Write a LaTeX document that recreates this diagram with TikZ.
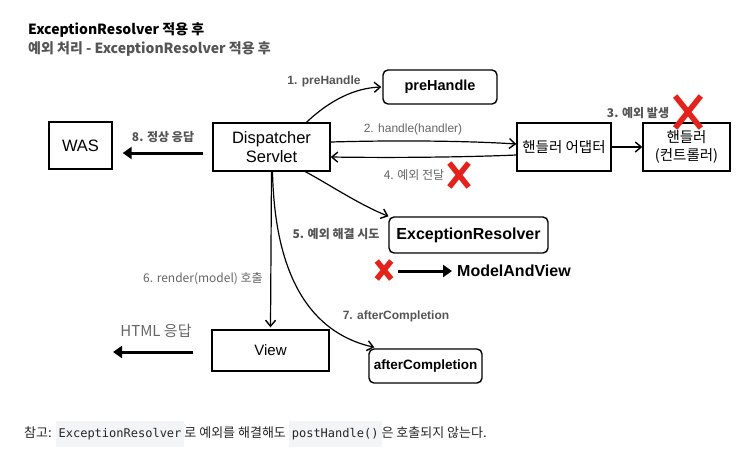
\documentclass[tikz,border=0pt]{standalone}
\usepackage{fontspec}
\usepackage{xcolor}
\usetikzlibrary{arrows.meta}
\setmainfont{Liberation Sans}
\newfontfamily\kr{Noto Sans CJK KR}
\newfontfamily\codefont{DejaVu Sans Mono}
\definecolor{lblgray}{HTML}{666666}
\definecolor{boldgray}{HTML}{555555}
\definecolor{xred}{HTML}{E3231B}
\definecolor{codebg}{HTML}{F3F4F6}
\newcommand\codebit[1]{{\setlength\fboxsep{3pt}\colorbox{codebg}{\rule[-7pt]{0pt}{20pt}\fontsize{12}{14}\codefont #1}}}
\tikzset{
  box/.style={draw,line width=1.4pt,inner sep=0pt,align=center,font=\fontsize{16.5}{19}\selectfont},
  rbox/.style={box,rounded corners=5pt,font=\fontsize{14.5}{17}\selectfont\bfseries},
  lbl/.style={text=lblgray,inner sep=0pt,font=\fontsize{12}{14}\selectfont},
  blbl/.style={text=boldgray,inner sep=0pt,font=\fontsize{12}{14}\selectfont\bfseries},
  flow/.style={line width=1.2pt,-{Straight Barb[length=6pt,width=10pt,line width=1.4pt]}},
  fat/.style={line width=3pt,-{Triangle[length=9pt,width=12pt]}},
  xline/.style={xred,line width=5.5pt},
  xmark/.pic={\draw[xline] (-#1*0.8,-#1) -- (#1*0.8,#1) (-#1*0.8,#1) -- (#1*0.8,-#1);}
}
\begin{document}
\begin{tikzpicture}[x=1pt,y=-1pt]
        \useasboundingbox[fill=white] (0,0) rectangle (751,459);
        \node[anchor=west,inner sep=0pt,font=\fontsize{14}{16}\kr\bfseries](title) at (28,30) {ExceptionResolver 적용 후};
        \node[anchor=west,inner sep=0pt,text=boldgray,font=\fontsize{14}{16}\kr\bfseries](subtitle) at (28,49) {예외 처리 - ExceptionResolver 적용 후};
        \node[box,minimum width=63,minimum height=47](was) at (80.5,145.5) {WAS};
        \node[box,minimum width=117,minimum height=48](ds) at (271.5,147) {Dispatcher\\Servlet};
        \node[rbox,minimum width=114,minimum height=34](pre) at (440,87) {preHandle};
        \node[box,minimum width=94,minimum height=48,font=\fontsize{14.5}{18}\kr](ad) at (564,147) {핸들러 어댑터};
        \node[box,minimum width=87,minimum height=48,font=\fontsize{14.5}{18}\kr](hd) at (686.5,147) {핸들러\\(컨트롤러)};
        \node[rbox,minimum width=159,minimum height=36,font=\fontsize{16}{18}\selectfont\bfseries](er) at (468.5,235) {ExceptionResolver};
        \node[box,minimum width=117,minimum height=41,font=\fontsize{15}{18}\selectfont](view) at (270.5,350.5) {View};
        \node[rbox,minimum width=113,minimum height=34,font=\fontsize{13.5}{16}\selectfont\bfseries](after) at (425.5,366) {afterCompletion};
        \node[anchor=west,inner sep=0pt,font=\fontsize{16}{18}\selectfont\bfseries](mav) at (457,271) {ModelAndView};
        \coordinate(mavstart) at (398,271);
        \coordinate(html) at (113,352);
        \node[blbl,font=\fontsize{12}{14}\kr\bfseries](l8) at (163,137) {8. 정상 응답};
        \node[blbl](l1) at (324,81) {1. preHandle};
        \node[lbl](l2) at (413,129) {2. handle(handler)};
        \node[blbl,font=\fontsize{12}{14}\kr\bfseries](l3) at (638,113) {3. 예외 발생};
        \node[lbl,font=\fontsize{12}{14}\kr](l4) at (414,175) {4. 예외 전달};
        \node[blbl,font=\fontsize{12}{14}\kr\bfseries](l5) at (336,234) {5. 예외 해결 시도};
        \node[lbl,font=\fontsize{12}{14}\kr](l6) at (203,279) {6. render(model) 호출};
        \node[blbl](l7) at (396,316) {7. afterCompletion};
        \node[lbl,font=\fontsize{15}{17}\kr](lhtml) at (156,331) {HTML 응답};
        \draw[fat]([xshift=-9pt,yshift=-6pt]ds.west)--([xshift=10pt,yshift=-7.5pt]was.east);
        \draw[flow]([xshift=35pt]ds.north) .. controls (330,100) and (355,88) .. ([xshift=-1pt]pre.west);
        \draw[flow]([yshift=5pt]ds.east) .. controls (400,140) and (470,141) .. ([yshift=3pt]ad.west);
        \draw[flow](ad.east)--(hd.west);
        \draw[flow]([yshift=-8pt]ad.west) .. controls (470,157) and (400,158) .. ([yshift=-10pt]ds.east);
        \draw[flow]([xshift=34pt]ds.south) .. controls (330,185) and (360,205) .. ([xshift=-80pt]er.north);
        \draw[flow](ds.south)--([yshift=2pt]view.north);
        \draw[flow]([xshift=1pt]ds.south) .. controls (275,290) and (320,335) .. ([xshift=6pt,yshift=1pt]after.north west);
        \draw[fat]([xshift=-18pt,yshift=-1.5pt]view.west)--(html);
        \draw[fat](mavstart)--([xshift=-5pt]mav.west);
        \pic at (688,112) {xmark=16};
        \pic at (459,175) {xmark=12};
        \pic at (384,270) {xmark=9};
        \node[anchor=west,inner sep=0pt,text=black!85,font=\fontsize{13}{16}\kr](note) at (24,434) {참고: \codebit{ExceptionResolver}로 예외를 해결해도 \codebit{postHandle()}은 호출되지 않는다.};
        \end{tikzpicture}
\end{document}
